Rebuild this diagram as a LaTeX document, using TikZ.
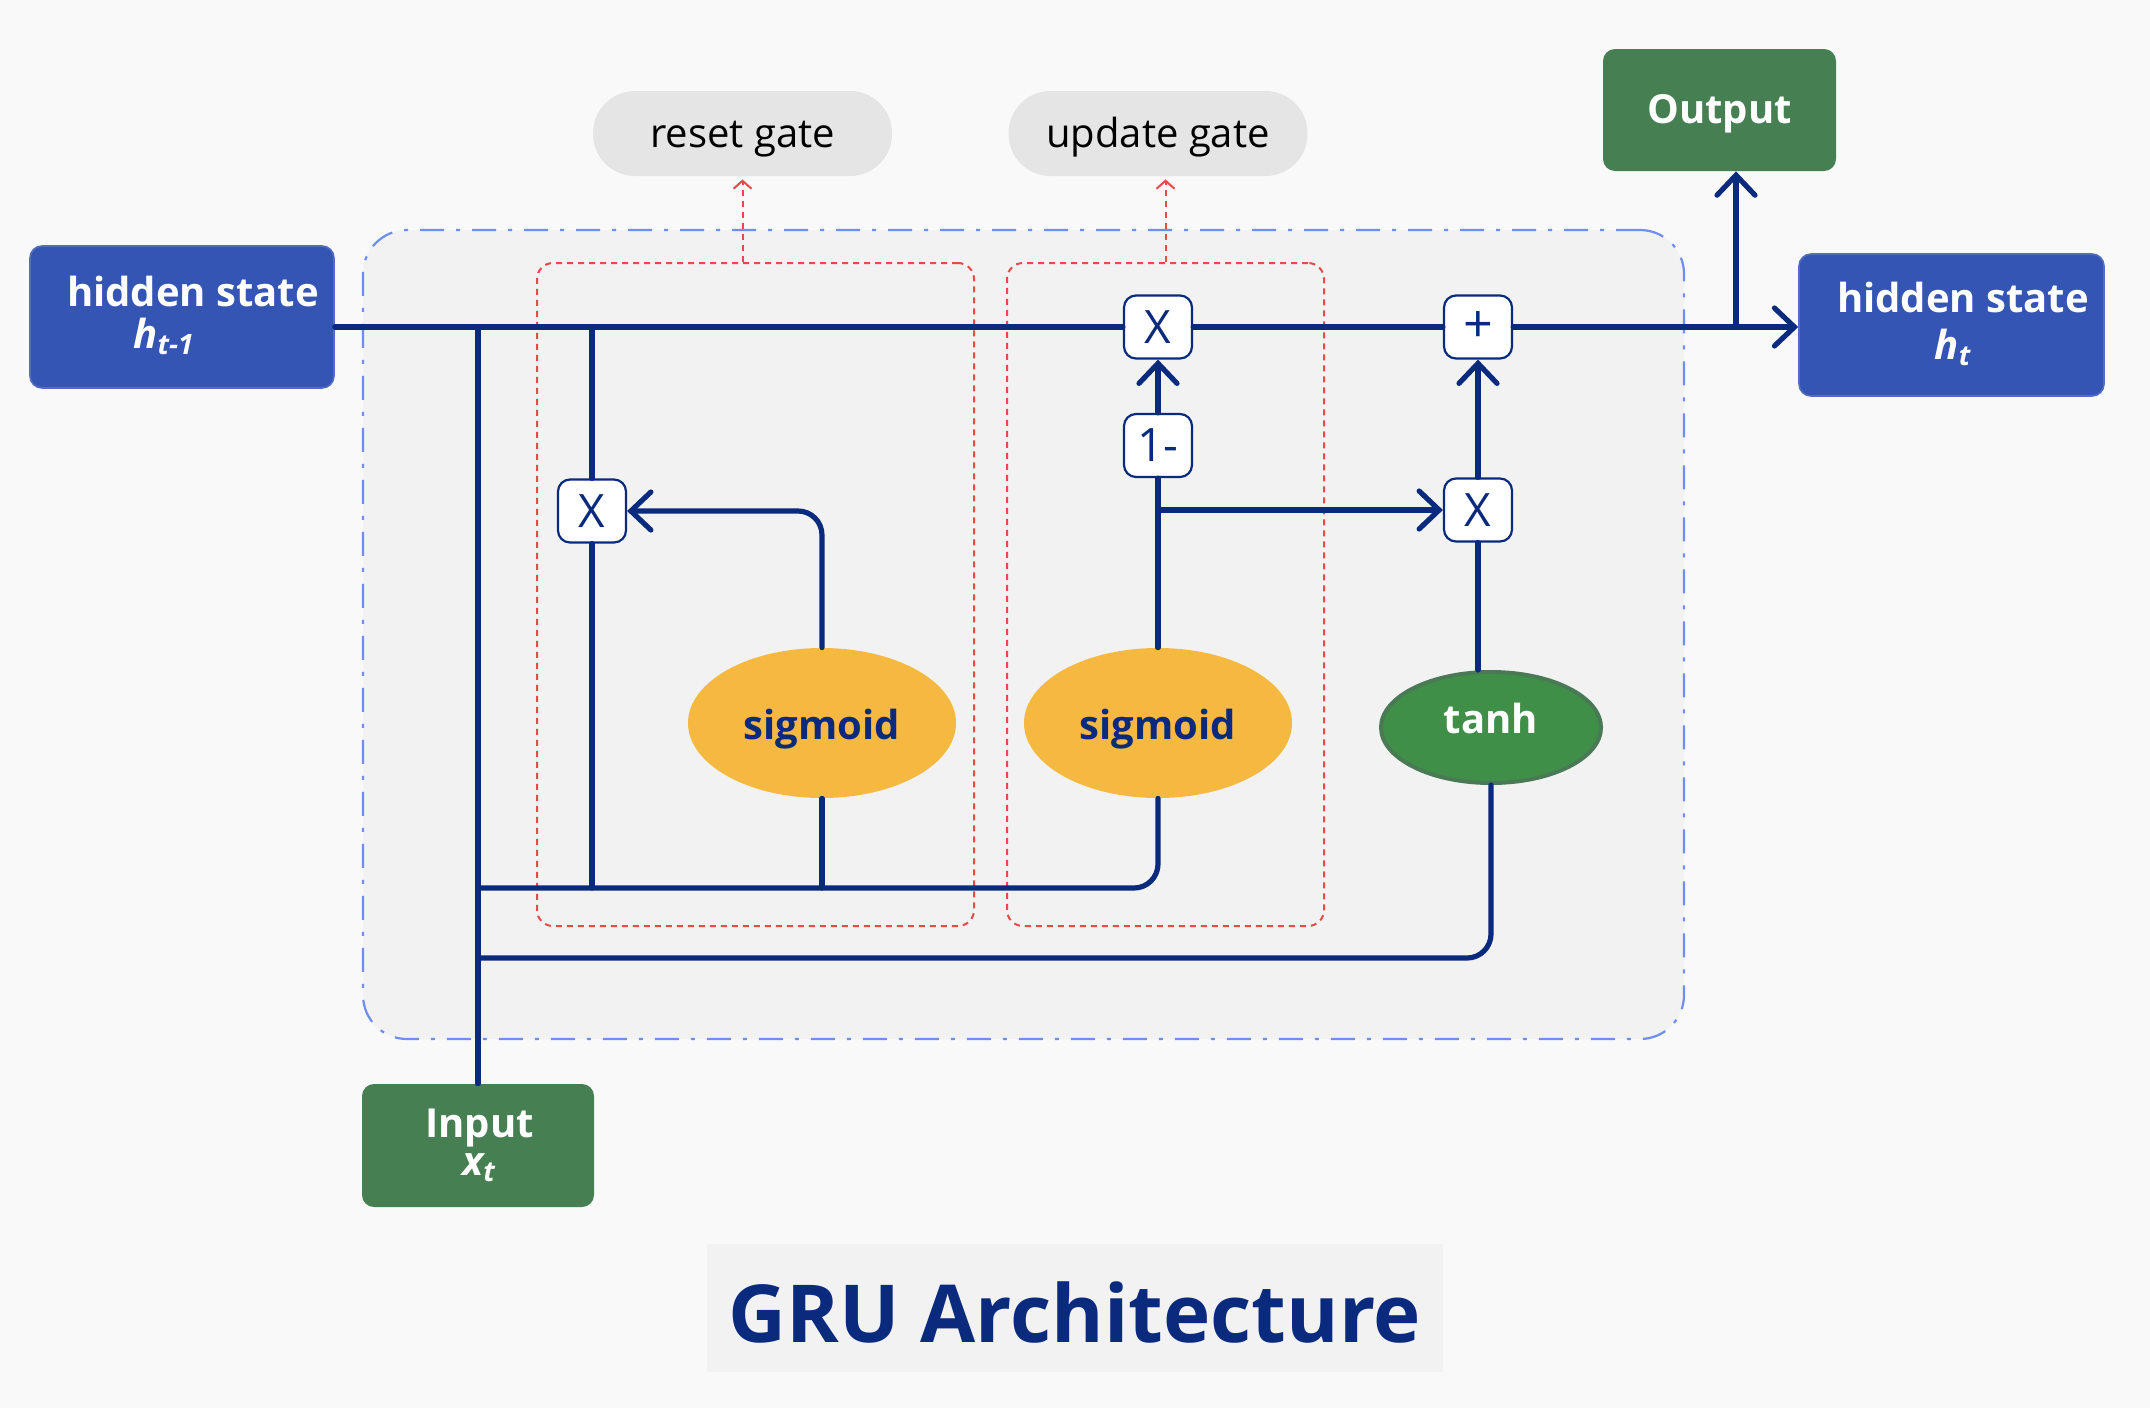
\documentclass[tikz,border=0pt]{standalone}
\usepackage{fontspec}
\setmainfont{Open Sans}
\usetikzlibrary{arrows.meta,shapes.geometric}
\definecolor{bgc}{HTML}{F9F9F9}
\definecolor{cellfill}{HTML}{F2F2F2}
\definecolor{cellborder}{HTML}{6E8EF0}
\definecolor{navy}{HTML}{0A2A7E}
\definecolor{hblue}{HTML}{3555B5}
\definecolor{ogreen}{HTML}{468052}
\definecolor{pillc}{HTML}{E5E5E5}
\definecolor{redc}{HTML}{E84A4A}
\definecolor{sigc}{HTML}{F5B942}
\definecolor{tanhc}{HTML}{3F8F48}
\definecolor{tanhb}{HTML}{4A7A55}
\definecolor{titlebg}{HTML}{F2F2F2}
\begin{document}
\begin{tikzpicture}[x=0.5pt,y=-0.5pt,
  navyline/.style={draw=navy, line width=2.6pt, line cap=round},
  arr/.style={-{Straight Barb[length=10pt,width=19pt,line cap=round]}},
  opbox/.style={draw=navy, line width=1.1pt, fill=white, rounded corners=6pt,
    minimum width=34pt, minimum height=31.5pt, inner sep=0pt,
    font=\fontsize{23}{23}\selectfont, text=navy},
  bluebox/.style={fill=hblue, draw=hblue!85!white, line width=0.8pt, rounded corners=6pt,
    minimum width=152pt, minimum height=71pt, inner sep=0pt},
  greenbox/.style={fill=ogreen, rounded corners=6pt, inner sep=0pt},
  pill/.style={fill=pillc, rounded corners=21pt, minimum width=149.5pt,
    minimum height=42.5pt, inner sep=0pt, font=\fontsize{20}{24}\selectfont, text=black,
    text height=16pt, text depth=2.5pt},
  redbox/.style={draw=redc, line width=1pt, dash pattern=on 3pt off 2.5pt,
    rounded corners=8pt, inner sep=0pt},
  redarr/.style={draw=redc, line width=1pt, dash pattern=on 3pt off 2.5pt,
    -{Straight Barb[length=4pt,width=9pt]}, shorten >=1.5pt},
  lbl/.style={text=white, font=\bfseries\fontsize{20}{24}\selectfont, inner sep=0pt, anchor=base},
  gate/.style={ellipse, inner sep=0pt, font=\bfseries\fontsize{20}{24}\selectfont}
]
\useasboundingbox (0,0) rectangle (2150,1408);
\fill[bgc] (0,0) rectangle (2150,1408);

% cell
\node[fill=cellfill, draw=cellborder, line width=1.1pt,
  dash pattern=on 12pt off 6pt on 2pt off 6pt, rounded corners=22pt,
  minimum width=660.5pt, minimum height=404.5pt, inner sep=0pt] (cell) at (1023.5,634.5) {};

% red gate boxes
\node[redbox, minimum width=218.5pt, minimum height=331.5pt] (resetbox) at (755.5,594.5) {};
\node[redbox, minimum width=158.5pt, minimum height=331.5pt] (updbox) at (1165.5,594.5) {};

% pills
\node[pill] (resetpill) at (742.5,133.5) {reset gate};
\node[pill] (updpill) at (1158,133.5) {update gate};

% big boxes
\node[bluebox] (hprev) at (182,317) {};
\node[lbl] (hprevt) at (193,306) {hidden state};
\node[lbl] (hprevs) at (164,348) {\itshape h\textsubscript{t-1}};

\node[bluebox, minimum width=152.5pt] (hnext) at (1951.5,325) {};
\node[lbl] (hnextt) at (1963,312.5) {hidden state};
\node[lbl] (hnexts) at (1953,359) {\itshape h\textsubscript{t}};

\node[greenbox, minimum width=116.5pt, minimum height=61pt, text=white,
  font=\bfseries\fontsize{20}{24}\selectfont, text height=15pt, text depth=2pt] (output) at (1719.5,110) {Output};

\node[greenbox, minimum width=116pt, minimum height=61.5pt] (input) at (478,1145.5) {};
\node[lbl] (inputt) at (479.5,1137.5) {Input};
\node[lbl] (inputs) at (479,1175) {\itshape x\textsubscript{t}};

% operators
\node[opbox] (mulA) at (592,511) {X};
\node[opbox] (mulB) at (1158,327) {X};
\node[opbox, font=\fontsize{26}{26}\selectfont] (plus) at (1478,327) {+};
\node[opbox] (onem) at (1158,445.5) {1-};
\node[opbox] (mulC) at (1478,510) {X};

% gates
\node[gate, fill=sigc, text=navy, minimum width=134pt, minimum height=75pt,
  text height=18pt, text depth=2pt] (sig1) at (822,723) {sigmoid};
\node[gate, fill=sigc, text=navy, minimum width=134pt, minimum height=75pt,
  text height=18pt, text depth=2pt] (sig2) at (1158,723) {sigmoid};
\node[gate, fill=tanhc, draw=tanhb, line width=2pt, text=white, minimum width=110pt,
  minimum height=55.5pt, text height=14pt, text depth=8pt] (tanh) at (1491,727.5) {tanh};

% coordinates
\coordinate (ij) at (478,327);
\coordinate (oj) at (1736,327);
\coordinate (b1) at (478,888);
\coordinate (b2) at (478,958);

% red arrows
\draw[redarr] (resetbox.north -| resetpill.south) -- (resetpill.south);
\draw[redarr] (updbox.north) -- (updbox.north |- updpill.south);

% main line
\draw[navyline] (hprev.east |- mulB.west) -- (mulB.west);
\draw[navyline] (mulB.east) -- (plus.west);
\draw[navyline, arr] (plus.east) -- (hnext.west |- plus.east);
\draw[navyline, arr] (oj) -- (oj |- output.south);

% input trunk
\draw[navyline] (ij) -- (input.north);
\draw[navyline] (mulA.north |- ij) -- (mulA.north);
\draw[navyline] (mulA.south) -- (mulA.south |- b1);
\draw[navyline, arr, rounded corners=12pt] (sig1.north) |- (mulA.east);
\draw[navyline] (sig1.south) -- (sig1.south |- b1);
\draw[navyline, rounded corners=12pt] (b1) -| (sig2.south);
\draw[navyline, rounded corners=12pt] (b2) -| (tanh.south);

% update path
\draw[navyline] (sig2.north) -- (onem.south);
\draw[navyline, arr] (onem.north) -- (mulB.south);
\draw[navyline, arr] (onem.south |- mulC.west) -- (mulC.west);
\draw[navyline] (tanh.north -| mulC.south) -- (mulC.south);
\draw[navyline, arr] (mulC.north) -- (plus.south);

% title
\node[fill=titlebg, minimum width=368pt, minimum height=64pt, inner sep=0pt, text=navy,
  font=\bfseries\fontsize{40}{42}\selectfont, text height=36pt, text depth=2pt] (title) at (1075,1308) {GRU Architecture};
\end{tikzpicture}
\end{document}
